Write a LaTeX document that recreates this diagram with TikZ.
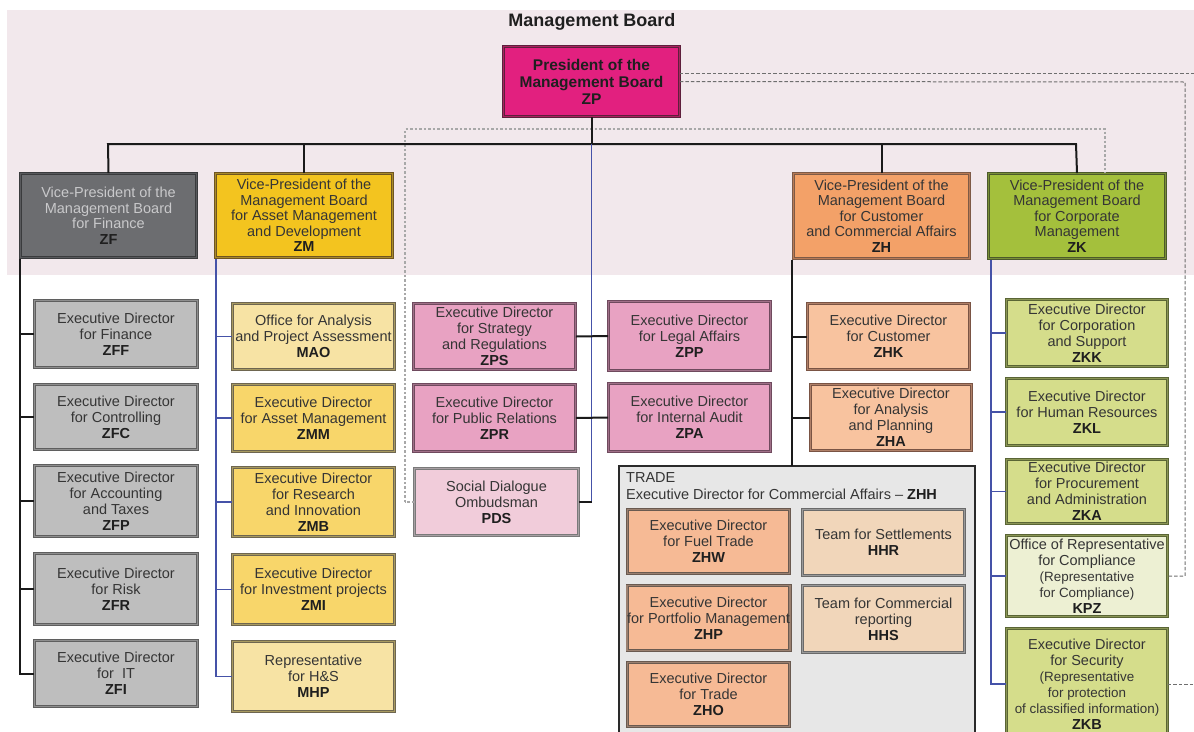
\documentclass[tikz,border=0pt]{standalone}
\usepackage{fontspec}
\setmainfont{Liberation Sans}
\usetikzlibrary{calc}

% palette
\definecolor{bgpink}{HTML}{F2E8EC}
\definecolor{linec}{HTML}{1A1A1A}
\definecolor{bluec}{HTML}{4552A8}
\definecolor{dashA}{HTML}{6E6E6E}
\definecolor{dashD}{HTML}{A8A8A8}
\definecolor{txt}{HTML}{353535}
\definecolor{codec}{HTML}{1F1F1F}
\definecolor{zpF}{HTML}{E2207F}\definecolor{zpD}{HTML}{5E1F3C}\definecolor{zpM}{HTML}{A8245F}
\definecolor{zfF}{HTML}{6C6D70}\definecolor{zfD}{HTML}{3A3B3D}\definecolor{zfM}{HTML}{58595C}\definecolor{zfT}{HTML}{C9C9CB}
\definecolor{zmF}{HTML}{F3C41F}\definecolor{zmD}{HTML}{6F5520}\definecolor{zmM}{HTML}{A88A2C}
\definecolor{zhF}{HTML}{F3A168}\definecolor{zhD}{HTML}{7E5A46}\definecolor{zhM}{HTML}{B87A55}
\definecolor{zkF}{HTML}{A4C03C}\definecolor{zkD}{HTML}{4C5A2A}\definecolor{zkM}{HTML}{7A8F38}
\definecolor{grF}{HTML}{BEBEBE}\definecolor{grD}{HTML}{5F5F5F}\definecolor{grM}{HTML}{8E8E8E}
\definecolor{yeF}{HTML}{F8D66A}\definecolor{yeL}{HTML}{F7E3A4}\definecolor{yeD}{HTML}{6E6650}\definecolor{yeM}{HTML}{A89A60}
\definecolor{piF}{HTML}{E8A2C2}\definecolor{piD}{HTML}{6F4A5E}\definecolor{piM}{HTML}{A07088}
\definecolor{plF}{HTML}{F1CCDA}\definecolor{plD}{HTML}{7A7A7A}\definecolor{plM}{HTML}{A8A0A4}
\definecolor{orF}{HTML}{F8C39F}\definecolor{orD}{HTML}{7A5444}\definecolor{orM}{HTML}{B08068}
\definecolor{tcF}{HTML}{F6BA95}\definecolor{tcD}{HTML}{6A5A50}\definecolor{tcM}{HTML}{9A8070}
\definecolor{hhF}{HTML}{F1D6BA}\definecolor{hhD}{HTML}{6A6A6A}\definecolor{hhM}{HTML}{9A9A9A}
\definecolor{gnF}{HTML}{D5DD8B}\definecolor{gnL}{HTML}{EDF0D3}\definecolor{gnD}{HTML}{5A6535}\definecolor{gnM}{HTML}{8A9555}
\definecolor{trF}{HTML}{E7E7E7}\definecolor{trD}{HTML}{2A2A2A}

\newcommand\fs{\fontsize{14.5}{16}\selectfont}
\newcommand\fsv{\fontsize{14.5}{15.5}\selectfont}
\newcommand\fsm{\fontsize{13.4}{14}\selectfont}
\newcommand\cd[1]{\textbf{\color{codec}#1}}

\tikzset{
  unit/.style={rectangle, align=center, inner sep=0pt, line width=0.9pt,
    double distance=1.4pt, text=txt, font=\fs},
  vpbox/.style={unit, font=\fsv},
  grayex/.style={unit, fill=grF, draw=grD, double=grM},
  yelex/.style={unit, fill=yeF, draw=yeD, double=yeM},
  yellt/.style={unit, fill=yeL, draw=yeD, double=yeM},
  pinkex/.style={unit, fill=piF, draw=piD, double=piM},
  pinklt/.style={unit, fill=plF, draw=plD, double=plM},
  orgex/.style={unit, fill=orF, draw=orD, double=orM},
  tradeex/.style={unit, fill=tcF, draw=tcD, double=tcM},
  teamex/.style={unit, fill=hhF, draw=hhD, double=hhM},
  grnex/.style={unit, fill=gnF, draw=gnD, double=gnM},
  grnlt/.style={unit, fill=gnL, draw=gnD, double=gnM},
  solidlink/.style={draw=linec, line width=2pt},
  bluelink/.style={draw=bluec, line width=1.8pt},
  darkdash/.style={draw=dashA, line width=1pt, dash pattern=on 3.5pt off 2pt},
  lightdash/.style={draw=dashD, line width=1.2pt, dash pattern=on 2.5pt off 2pt},
}

\begin{document}
\begin{tikzpicture}[x=1pt,y=-1pt]
\useasboundingbox (0,0) rectangle (1194,731);

% board band
\fill[bgpink] (7,10) rectangle (1194,275);
\node[font=\bfseries\fontsize{18}{20}\selectfont, text=codec] (title) at (592,22) {Management Board};

% coordinates for routing
\coordinate (busL) at (108,144);
\coordinate (busR) at (1076,144);
\coordinate (dL1) at (405,502);
\coordinate (dL2) at (405,129);
\coordinate (dR1) at (1105,129);
\coordinate (bR1) at (1185,82);
\coordinate (bR2) at (1185,576);
\coordinate (aEnd) at (1200,73);
\coordinate (cEnd) at (1200,684);
\coordinate (fl) at (20,259);
\coordinate (ml) at (216,259);
\coordinate (hl) at (792,260);
\coordinate (hb) at (792,466);
\coordinate (kl) at (991,260);

% trade area frame
\draw[fill=trF, draw=trD, line width=1.8pt] (619,466) rectangle (975,750);
\node[anchor=north west, align=left, text=txt, font=\fontsize{14.5}{17}\selectfont, inner sep=0pt] (trade) at (626,472)
  {TRADE\\Executive Director for Commercial Affairs -- \cd{ZHH}};

% top level
\node[unit, fill=zpF, draw=zpD, double=zpM, text=codec, minimum width=176pt, minimum height=70pt,
  font=\bfseries\fontsize{15.5}{17}\selectfont] (ZP) at (591.5,81.5)
  {President of the\\Management Board\\ZP};

\node[vpbox, fill=zfF, draw=zfD, double=zfM, text=zfT, minimum width=176pt, minimum height=84pt] (ZF) at (108.5,215.5)
  {Vice-President of the\\Management Board\\for Finance\\\cd{ZF}};
\node[vpbox, fill=zmF, draw=zmD, double=zmM, minimum width=177pt, minimum height=84pt] (ZM) at (304,215.5)
  {Vice-President of the\\Management Board\\for Asset Management\\and Development\\\cd{ZM}};
\node[vpbox, fill=zhF, draw=zhD, double=zhM, minimum width=176pt, minimum height=85pt] (ZH) at (881.5,216)
  {Vice-President of the\\Management Board\\for Customer\\and Commercial Affairs\\\cd{ZH}};
\node[vpbox, fill=zkF, draw=zkD, double=zkM, minimum width=177pt, minimum height=85pt] (ZK) at (1077,216)
  {Vice-President of the\\Management Board\\for Corporate\\Management\\\cd{ZK}};

% dotted staff relation, under the boxes
\draw[lightdash] (dL1) -- (dL2) -- (dR1) -- (dR1 |- ZK.north);

% main bus
\draw[solidlink] (ZP.south) -- (ZP.south |- busL);
\draw[solidlink] (ZF.north) -- (busL) -- (busR) -- (ZK.north);
\draw[solidlink] (ZM.north) -- (ZM.north |- busL);
\draw[solidlink] (ZH.north) -- (ZH.north |- busL);

% finance column
\node[grayex, minimum width=163pt, minimum height=67pt] (ZFF) at (116,334) {Executive Director\\for Finance\\\cd{ZFF}};
\node[grayex, minimum width=163pt, minimum height=65pt] (ZFC) at (116,417) {Executive Director\\for Controlling\\\cd{ZFC}};
\node[grayex, minimum width=163pt, minimum height=71pt] (ZFP) at (116,501) {Executive Director\\for Accounting\\and Taxes\\\cd{ZFP}};
\node[grayex, minimum width=163pt, minimum height=71pt] (ZFR) at (116,589) {Executive Director\\for Risk\\\cd{ZFR}};
\node[grayex, minimum width=163pt, minimum height=66pt] (ZFI) at (116,673.5) {Executive Director\\for~~IT\\\cd{ZFI}};
\draw[solidlink] (fl) |- (ZFI.west);
\foreach \n in {ZFF,ZFC,ZFP,ZFR} \draw[solidlink] (\n.west) -- (\n.west -| fl);

% asset column
\node[yellt, minimum width=162pt, minimum height=66pt] (MAO) at (313.5,336.5) {Office for Analysis\\and Project Assessment\\\cd{MAO}};
\node[yelex, minimum width=162pt, minimum height=67pt] (ZMM) at (313.5,418) {Executive Director\\for Asset Management\\\cd{ZMM}};
\node[yelex, minimum width=162pt, minimum height=69pt] (ZMB) at (313.5,502) {Executive Director\\for Research\\and Innovation\\\cd{ZMB}};
\node[yelex, minimum width=162pt, minimum height=70pt] (ZMI) at (313.5,589.5) {Executive Director\\for Investment projects\\\cd{ZMI}};
\node[yellt, minimum width=162pt, minimum height=70pt] (MHP) at (313.5,676.5) {Representative\\for H\&S\\\cd{MHP}};
\draw[bluelink] (ml) |- (MHP.west);
\foreach \n in {MAO,ZMM,ZMB,ZMI} \draw[bluelink] (\n.west) -- (\n.west -| ml);

% president's staff
\draw[bluelink] (ZP.south |- busL) -- (ZP.south |- dL1);
\node[pinkex, minimum width=162pt, minimum height=66pt] (ZPS) at (494.5,336.5) {Executive Director\\for Strategy\\and Regulations\\\cd{ZPS}};
\node[pinkex, minimum width=162pt, minimum height=67pt] (ZPR) at (494.5,418) {Executive Director\\for Public Relations\\\cd{ZPR}};
\node[pinkex, minimum width=162pt, minimum height=69pt] (ZPP) at (689.5,336) {Executive Director\\for Legal Affairs\\\cd{ZPP}};
\node[pinkex, minimum width=162pt, minimum height=68pt] (ZPA) at (689.5,417.5) {Executive Director\\for Internal Audit\\\cd{ZPA}};
\node[pinklt, minimum width=164pt, minimum height=67pt] (PDS) at (496.5,502) {Social Dialogue\\Ombudsman\\\cd{PDS}};
\draw[solidlink] (ZPS.east) -- (ZPP.west);
\draw[solidlink] (ZPR.east) -- (ZPA.west);
\draw[solidlink] (PDS.east) -- (PDS.east -| ZP.south);
\draw[lightdash] (PDS.west) -- (dL1);

% customer and commercial column
\node[orgex, minimum width=162pt, minimum height=66pt] (ZHK) at (888.5,336.5) {Executive Director\\for Customer\\\cd{ZHK}};
\node[orgex, minimum width=161pt, minimum height=66pt] (ZHA) at (891,417.5) {Executive Director\\for Analysis\\and Planning\\\cd{ZHA}};
\draw[solidlink] (hl) -- (hb);
\draw[solidlink] (ZHK.west) -- (ZHK.west -| hl);
\draw[solidlink] (ZHA.west) -- (ZHA.west -| hl);

% trade units
\node[tradeex, minimum width=162pt, minimum height=64pt] (ZHW) at (708.5,541.5) {Executive Director\\for Fuel Trade\\\cd{ZHW}};
\node[tradeex, minimum width=162pt, minimum height=65pt] (ZHP) at (708.5,618) {Executive Director\\for Portfolio Management\\\cd{ZHP}};
\node[tradeex, minimum width=162pt, minimum height=64pt] (ZHO) at (708.5,694.5) {Executive Director\\for Trade\\\cd{ZHO}};
\node[teamex, minimum width=162pt, minimum height=66pt] (HHR) at (883.5,542.5) {Team for Settlements\\\cd{HHR}};
\node[teamex, minimum width=162pt, minimum height=67pt] (HHS) at (883.5,619) {Team for Commercial\\reporting\\\cd{HHS}};

% corporate column
\node[grnex, minimum width=161pt, minimum height=67pt] (ZKK) at (1087,333) {Executive Director\\for Corporation\\and Support\\\cd{ZKK}};
\node[grnex, minimum width=161pt, minimum height=67pt] (ZKL) at (1087,412) {Executive Director\\for Human Resources\\\cd{ZKL}};
\node[grnex, minimum width=161pt, minimum height=64pt] (ZKA) at (1087,491.5) {Executive Director\\for Procurement\\and Administration\\\cd{ZKA}};
\node[grnlt, minimum width=161pt, minimum height=81pt] (KPZ) at (1087,576)
  {Office of Representative\\for Compliance\\{\fsm (Representative}\\{\fsm for Compliance)}\\\cd{KPZ}};
\node[grnex, minimum width=161pt, minimum height=111pt] (ZKB) at (1087,684)
  {Executive Director\\for Security\\{\fsm (Representative}\\{\fsm for protection}\\{\fsm of classified information)}\\\cd{ZKB}};
\draw[bluelink] (kl) |- (ZKB.west);
\foreach \n in {ZKK,ZKL,ZKA,KPZ} \draw[bluelink] (\n.west) -- (\n.west -| kl);

% dashed reporting lines from the president
\draw[darkdash] ($(ZP.east)+(0,-8.5)$) -- (aEnd);
\draw[darkdash] (ZP.east) -- (bR1) -- (bR2) -- (KPZ.east |- bR2);
\draw[darkdash] (ZKB.east) -- (cEnd);
\end{tikzpicture}
\end{document}
